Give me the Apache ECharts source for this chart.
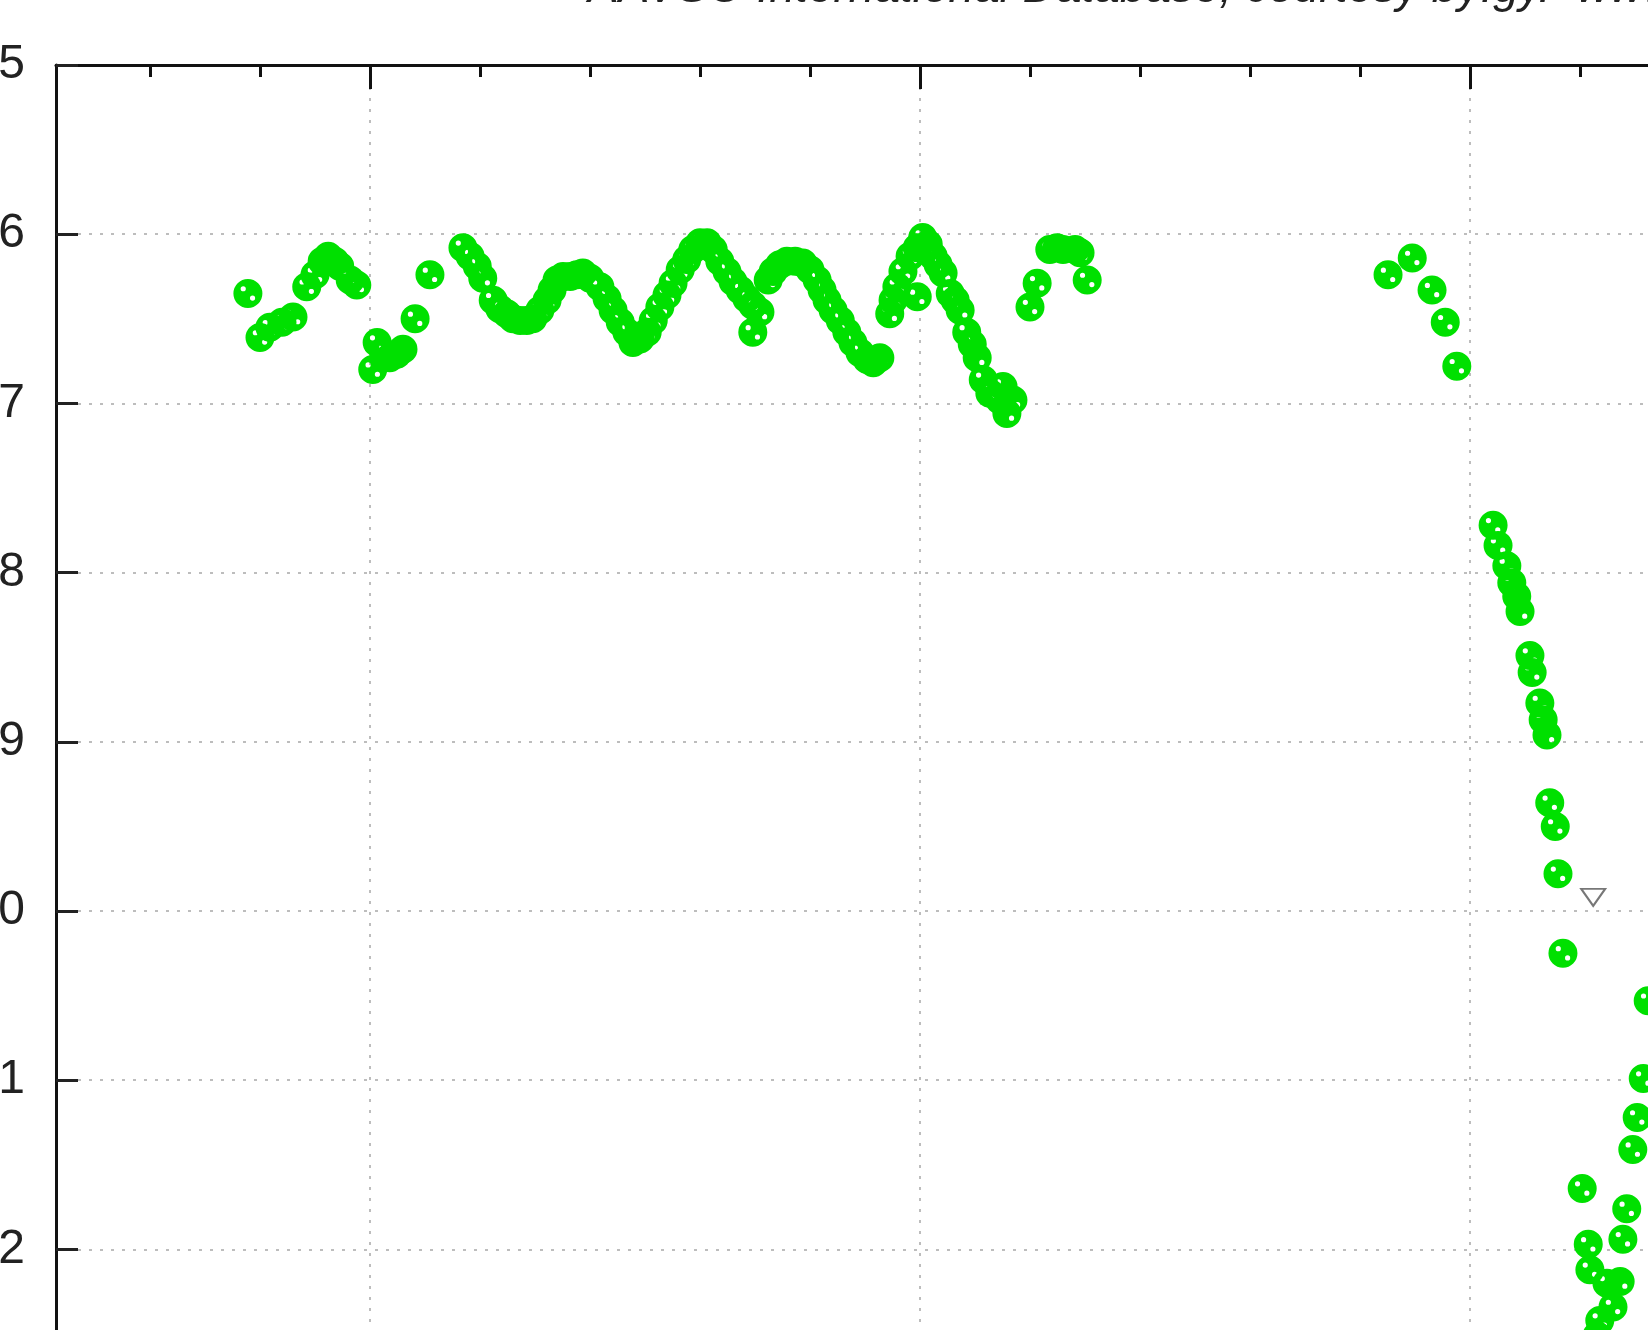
<!DOCTYPE html>
<html><head><meta charset="utf-8">
<style>
html,body{margin:0;padding:0;overflow:hidden;background:#fff;width:1648px;height:1330px;position:relative}
#c{position:absolute;left:-100px;top:0;width:2200px;height:1700px}
</style>
<script src="https://cdn.jsdelivr.net/npm/echarts@6/dist/echarts.min.js"></script>
</head><body><div id="c"></div>
<script>
const days = [
  77.8, 80.0, 81.8, 84.0, 86.0, 88.5, 90.0, 91.3, 92.4, 93.6, 94.5, 96.4, 97.6,
  100.5, 101.3, 102.5, 103.6, 104.9, 106.0, 108.2, 110.9,
  116.9, 118.2, 119.5, 120.5, 122.4, 123.6, 124.9, 126.0, 127.3, 128.5, 129.6, 130.9, 132.2, 133.1, 134.0,
  135.1, 136.4, 137.6, 138.7, 140.0, 141.8, 143.1, 144.2, 145.5, 146.7, 147.8, 149.1, 150.4, 151.5, 152.7,
  154.0, 155.1, 156.4, 157.6, 158.7, 160.0, 161.3, 162.4, 163.6, 164.9, 166.0, 167.3, 168.5, 169.6, 170.9, 169.6,
  172.4, 173.3, 174.5, 175.8, 177.3, 178.7, 180.0, 181.3, 182.2, 183.1, 184.2, 185.5, 186.7, 187.8, 189.1, 190.4, 191.5, 192.7,
  194.5, 195.1, 195.8, 196.9, 198.2, 199.5, 200.5, 201.5, 202.4, 203.3, 204.2, 205.5, 206.4, 207.3, 208.5, 209.5, 210.4,
  211.5, 212.7, 215.1, 214.5, 215.8, 216.9, 199.5,
  220.0, 221.3, 223.6, 224.9, 226.0, 228.2, 229.1, 230.4,
  285.1, 289.5, 293.1, 295.5, 297.6,
  304.2, 305.1, 306.7, 307.6, 308.5, 309.1, 310.9, 311.3, 312.7, 313.3, 314.0, 314.5, 315.5, 316.0, 316.9,
  320.4, 321.5, 321.8, 323.1, 323.6, 324.9, 326.0, 327.3, 327.8, 328.5, 329.6, 330.4, 331.5, 332.4
];
const mags = [
  6.35, 6.61, 6.55, 6.52, 6.49, 6.31, 6.24, 6.16, 6.13, 6.16, 6.19, 6.27, 6.30,
  6.80, 6.64, 6.70, 6.73, 6.71, 6.68, 6.50, 6.24,
  6.08, 6.13, 6.19, 6.26, 6.39, 6.44, 6.47, 6.50, 6.51, 6.51, 6.50, 6.45, 6.39, 6.33, 6.27,
  6.25, 6.25, 6.24, 6.23, 6.26, 6.31, 6.38, 6.45, 6.52, 6.58, 6.64, 6.62, 6.58, 6.51, 6.43,
  6.36, 6.29, 6.21, 6.15, 6.09, 6.05, 6.05, 6.09, 6.16, 6.22, 6.28, 6.33, 6.38, 6.42, 6.46, 6.58,
  6.27, 6.22, 6.18, 6.16, 6.16, 6.17, 6.21, 6.27, 6.33, 6.39, 6.45, 6.51, 6.58, 6.64, 6.70, 6.74, 6.76, 6.73,
  6.47, 6.39, 6.31, 6.22, 6.13, 6.08, 6.02, 6.06, 6.13, 6.18, 6.23, 6.35, 6.39, 6.45, 6.58, 6.65, 6.73,
  6.86, 6.94, 6.90, 6.98, 7.06, 6.98, 6.37,
  6.43, 6.29, 6.09, 6.08, 6.09, 6.09, 6.11, 6.27,
  6.24, 6.14, 6.33, 6.52, 6.78,
  7.72, 7.84, 7.96, 8.06, 8.14, 8.23, 8.49, 8.59, 8.77, 8.87, 8.96, 9.36, 9.50, 9.78, 10.25,
  11.64, 11.97, 12.12, 12.51, 12.42, 12.20, 12.34, 12.19, 11.94, 11.76, 11.41, 11.22, 10.99, 10.53
];
// "fainter than" estimate
const limitDays = [322.4];
const limitMags = [9.92];
// x axis ticks (days)
const majorTicks = [100, 200, 300];
const minorTicks = [60, 80, 120, 140, 160, 180, 220, 240, 260, 280, 320, 340, 360, 380];
const titleText = 'AAVSO International Database, courtesy by:gy.  www.aavso.org';

const X_MIN = 42.91, X_MAX = 400, Y_MIN = 5, Y_MAX = 14;

const markerPath = 'path://M0,-14A14,14 0 1,1 0,14A14,14 0 1,1 0,-14Z' +
  'M-4.5,-7A2.5,2.5 0 1,0 -4.5,-2A2.5,2.5 0 1,0 -4.5,-7Z' +
  'M4.5,2A2.5,2.5 0 1,0 4.5,7A2.5,2.5 0 1,0 4.5,2Z';

const obs = days.map((d, i) => [d, mags[i]]);
const lim = limitDays.map((d, i) => [d, limitMags[i]]);

const chart = echarts.init(document.getElementById('c'), null, {renderer: 'canvas'});
const gridLine = {show: true, lineStyle: {color: '#bdbdbd', width: 2, type: [3, 8]}};
chart.setOption({
  animation: false,
  backgroundColor: '#fff',
  title: {
    text: titleText, left: 683, top: -39,
    textStyle: {fontFamily: 'Liberation Sans', fontStyle: 'italic', fontWeight: 'normal', fontSize: 46, color: '#222'}
  },
  grid: {left: 156, top: 65, width: (X_MAX - X_MIN) * 5.5, height: (Y_MAX - Y_MIN) * 169.2},
  xAxis: [{
    type: 'value', position: 'top', min: X_MIN, max: X_MAX,
    axisLine: {show: true, lineStyle: {color: '#111', width: 3}},
    axisTick: {show: true, inside: true, length: 24, lineStyle: {color: '#111', width: 3}, customValues: majorTicks},
    axisLabel: {show: false, customValues: majorTicks},
    splitLine: gridLine,
    z: 2
  }, {
    type: 'value', position: 'top', min: X_MIN, max: X_MAX,
    axisLine: {show: false},
    axisTick: {show: true, inside: true, length: 12, lineStyle: {color: '#111', width: 3}, customValues: minorTicks},
    axisLabel: {show: false, customValues: minorTicks},
    splitLine: {show: false},
    z: 2
  }],
  yAxis: {
    type: 'value', inverse: true, min: Y_MIN, max: Y_MAX, interval: 1,
    axisLine: {show: true, lineStyle: {color: '#111', width: 3}},
    axisTick: {show: true, inside: true, length: 22, lineStyle: {color: '#222', width: 3}},
    axisLabel: {show: true, margin: 31, fontFamily: 'Liberation Sans', fontSize: 48, color: '#222'},
    splitLine: gridLine,
    z: 2
  },
  series: [{
    type: 'scatter', data: obs, xAxisIndex: 0, yAxisIndex: 0,
    symbol: markerPath, symbolSize: 29,
    itemStyle: {color: '#00e000', opacity: 1},
    z: 3
  }, {
    type: 'scatter', data: lim, xAxisIndex: 0, yAxisIndex: 0,
    symbol: 'triangle', symbolRotate: 180, symbolSize: [24, 17],
    itemStyle: {color: 'rgba(0,0,0,0)', borderColor: '#555', borderWidth: 2},
    z: 3
  }]
});
</script></body></html>
